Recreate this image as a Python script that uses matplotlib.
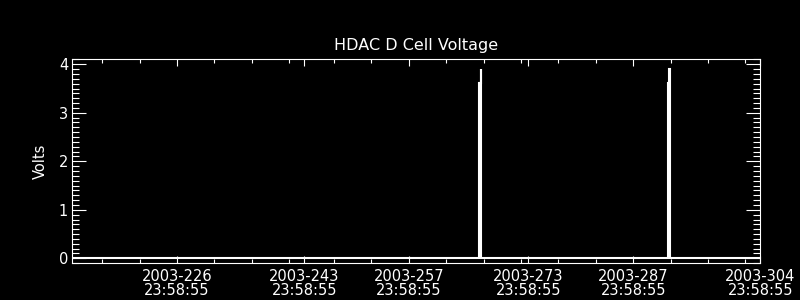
import matplotlib
matplotlib.use("Agg")
import matplotlib.pyplot as plt
from matplotlib.ticker import MultipleLocator, FixedLocator

# Time axis: days since 2003-212 23:58:55
x_start_day = 212
x_span_days = 92
major_offsets = [14, 31, 45, 61, 75, 92]
tick_labels = ["2003-226\n23:58:55", "2003-243\n23:58:55", "2003-257\n23:58:55",
               "2003-273\n23:58:55", "2003-287\n23:58:55", "2003-304\n23:58:55"]
minor_offsets = [4, 9, 19, 24, 29, 35, 40, 50, 55, 60, 65, 70, 80, 85, 90]

# Voltage series (days offset, volts)
t = [0.0, 54.39, 54.39, 54.46, 54.46, 54.53, 54.53, 54.59, 54.59, 54.70, 54.70,
     79.66, 79.66, 79.80, 79.80, 79.90, 79.90, 92.0]
v = [0.0, 0.0, 3.61, 3.61, 0.0, 0.0, 3.61, 3.61, 3.90, 3.90, 0.0,
     0.0, 3.61, 3.61, 3.90, 3.90, 0.0, 0.0]

plt.rcParams['font.family'] = ['DejaVu Sans']

fig = plt.figure(figsize=(8, 3), dpi=100, facecolor="black")
ax = fig.add_axes([0.0904, 0.1223, 0.86, 0.682])
ax.set_facecolor("black")

ax.plot(t, v, color="white", lw=1.5, solid_joinstyle="miter")

ax.set_xlim(0, x_span_days)
ax.set_ylim(-0.103, 4.115)

ax.xaxis.set_major_locator(FixedLocator(major_offsets))
ax.xaxis.set_minor_locator(FixedLocator(minor_offsets))
ax.set_xticklabels(tick_labels, linespacing=0.95)
ax.yaxis.set_major_locator(MultipleLocator(1))
ax.yaxis.set_minor_locator(MultipleLocator(0.1))

for s in ax.spines.values():
    s.set_color("white")
    s.set_linewidth(0.8)

ax.tick_params(axis="both", which="both", direction="in", colors="white",
               top=True, right=True, width=0.8, labelsize=10.5)
ax.tick_params(axis="x", which="major", length=5, pad=4)
ax.tick_params(axis="x", which="minor", length=2.6)
ax.tick_params(axis="y", which="major", length=10, pad=3)
ax.tick_params(axis="y", which="minor", length=5)

ax.set_title("HDAC D Cell Voltage", color="white", fontsize=11.5, pad=6)
ax.set_ylabel("Volts", color="white", fontsize=10.5, labelpad=8)

fig.savefig("out.png", dpi=100, facecolor="black")
